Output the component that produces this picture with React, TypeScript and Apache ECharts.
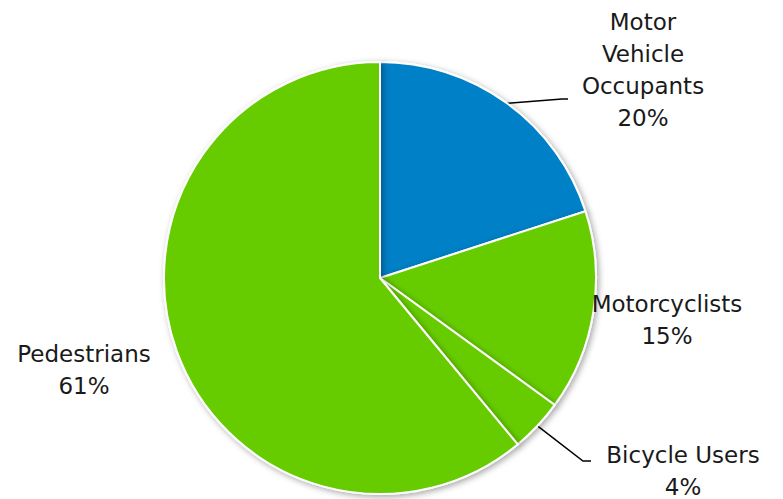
import React, { useEffect, useRef } from "react";
import * as echarts from "echarts";

const categories = ["Motor\nVehicle\nOccupants", "Motorcyclists", "Bicycle Users", "Pedestrians"];
const values = [20, 15, 4, 61];
const colors = ["#0080C6", "#66CC00", "#66CC00", "#66CC00"];
const showLines = [true, false, true, false];
const labelPos: [number, number][] = [
  [643, 70],
  [667, 320],
  [683, 471],
  [84, 370],
];
const lineBends: ([number, number][] | null)[] = [
  [[562, 99], [568, 99]],
  null,
  [[583, 461], [591, 461]],
  null,
];

export default function App() {
  const ref = useRef<HTMLDivElement>(null);
  useEffect(() => {
    if (!ref.current) return;
    const chart = echarts.init(ref.current, null, { renderer: "svg" });
    chart.setOption({
      animation: false,
      backgroundColor: "#ffffff",
      series: [
        {
          type: "pie",
          center: [380, 278],
          radius: 216,
          startAngle: 90,
          clockwise: true,
          itemStyle: {
            borderColor: "#ffffff",
            borderWidth: 2,
            shadowBlur: 6,
            shadowColor: "rgba(0,0,0,0.35)",
            shadowOffsetX: 2,
            shadowOffsetY: 2,
          },
          label: {
            show: true,
            formatter: "{b}\n{c}%",
            fontFamily: "DejaVu Sans",
            fontSize: 23,
            lineHeight: 32,
            color: "#1a1a1a",
            align: "center",
            overflow: "none",
          },
          labelLine: {
            show: true,
            length: 20,
            length2: 10,
            lineStyle: { color: "#000000", width: 1.5 },
          },
          labelLayout: (params: any) => {
            const i = params.dataIndex;
            const p = labelPos[i];
            const res: any = { x: p[0], y: p[1], align: "center", verticalAlign: "middle" };
            const bend = lineBends[i];
            if (bend && params.labelLinePoints) {
              res.labelLinePoints = [params.labelLinePoints[0], bend[0], bend[1]];
            }
            return res;
          },
          data: categories.map((name, i) => ({
            name,
            value: values[i],
            itemStyle: { color: colors[i] },
            labelLine: { show: showLines[i] },
          })),
        },
      ],
    });
    return () => chart.dispose();
  }, []);
  return (
    <div
      ref={ref}
      style={{ position: "fixed", left: 0, top: 0, width: 783, height: 499 }}
    />
  );
}
